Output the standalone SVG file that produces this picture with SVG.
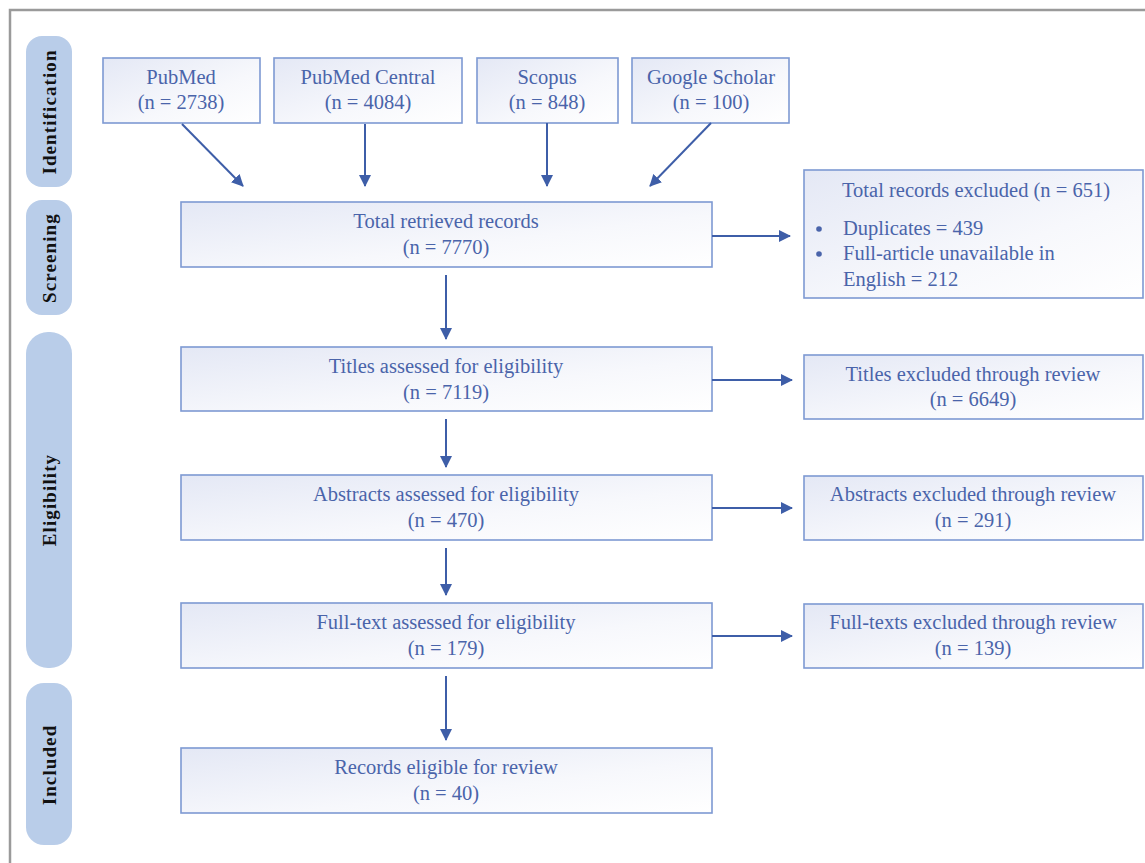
<svg xmlns="http://www.w3.org/2000/svg" width="1145" height="863" viewBox="0 0 1145 863">
<defs>
<linearGradient id="bg" x1="0" y1="0" x2="1" y2="1">
<stop offset="0" stop-color="#e4e8f5"/>
<stop offset="0.6" stop-color="#f7f8fc"/>
<stop offset="1" stop-color="#ffffff"/>
</linearGradient>
<marker id="ah" markerWidth="12" markerHeight="12" refX="11" refY="6" orient="auto" markerUnits="userSpaceOnUse">
<path d="M0,0 L12,6 L0,12 Z" fill="#3e5ea8"/>
</marker>
<style>
.box{fill:url(#bg);stroke:#7d99d3;stroke-width:1.6}
.pill{fill:#b9cde9}
.t{font-family:"Liberation Serif","Times New Roman",serif;font-size:20.5px;fill:#4a64aa}
.c{text-anchor:middle}
.lab{font-family:"Liberation Serif","Times New Roman",serif;font-size:19px;font-weight:bold;letter-spacing:1.1px;fill:#111;text-anchor:middle}
.ln{stroke:#3e5ea8;stroke-width:2;fill:none;marker-end:url(#ah)}
</style>
</defs>
<rect width="1145" height="863" fill="#fff"/>
<path d="M10,863 L10,10 L1145,10" fill="none" stroke="#9a9a9a" stroke-width="2.5"/>

<g id="stage-identification"><rect class="pill" x="26" y="36" width="46" height="151" rx="16"/><text class="lab" transform="translate(56,112) rotate(-90)">Identification</text></g>
<g id="stage-screening"><rect class="pill" x="26" y="200" width="46" height="115" rx="16"/><text class="lab" transform="translate(56,258) rotate(-90)">Screening</text></g>
<g id="stage-eligibility"><rect class="pill" x="26" y="332" width="46" height="336" rx="22"/><text class="lab" transform="translate(56,500) rotate(-90)">Eligibility</text></g>
<g id="stage-included"><rect class="pill" x="26" y="683" width="46" height="162" rx="18"/><text class="lab" transform="translate(56,765) rotate(-90)">Included</text></g>

<g id="pubmed"><rect class="box" x="103" y="58" width="157" height="65"/><text class="t c" x="181" y="84">PubMed</text><text class="t c" x="181" y="109">(n = 2738)</text></g>
<g id="pmc"><rect class="box" x="274" y="58" width="188" height="65"/><text class="t c" x="368" y="84">PubMed Central</text><text class="t c" x="368" y="109">(n = 4084)</text></g>
<g id="scopus"><rect class="box" x="477" y="58" width="141" height="65"/><text class="t c" x="547" y="84">Scopus</text><text class="t c" x="547" y="109">(n = 848)</text></g>
<g id="scholar"><rect class="box" x="632" y="58" width="157" height="65"/><text class="t c" x="711" y="84">Google Scholar</text><text class="t c" x="711" y="109">(n = 100)</text></g>

<g id="retrieved"><rect class="box" x="181" y="202" width="531" height="65"/><text class="t c" x="446" y="228">Total retrieved records</text><text class="t c" x="446" y="254">(n = 7770)</text></g>
<g id="titles"><rect class="box" x="181" y="347" width="531" height="64"/><text class="t c" x="446" y="373">Titles assessed for eligibility</text><text class="t c" x="446" y="399">(n = 7119)</text></g>
<g id="abstracts"><rect class="box" x="181" y="475" width="531" height="65"/><text class="t c" x="446" y="501">Abstracts assessed for eligibility</text><text class="t c" x="446" y="527">(n = 470)</text></g>
<g id="fulltext"><rect class="box" x="181" y="603" width="531" height="65"/><text class="t c" x="446" y="629">Full-text assessed for eligibility</text><text class="t c" x="446" y="655">(n = 179)</text></g>
<g id="eligible"><rect class="box" x="181" y="748" width="531" height="65"/><text class="t c" x="446" y="774">Records eligible for review</text><text class="t c" x="446" y="800">(n = 40)</text></g>

<g id="excluded-total"><rect class="box" x="804" y="170" width="339" height="128"/>
<text class="t" x="842" y="197">Total records excluded (n = 651)</text>
<circle cx="819" cy="229" r="2.8" fill="#4a64aa"/><text class="t" x="843" y="235">Duplicates = 439</text>
<circle cx="819" cy="254" r="2.8" fill="#4a64aa"/><text class="t" x="843" y="260">Full-article unavailable in</text>
<text class="t" x="843" y="286">English = 212</text></g>
<g id="excluded-titles"><rect class="box" x="804" y="355" width="339" height="64"/><text class="t c" x="973" y="381">Titles excluded through review</text><text class="t c" x="973" y="406">(n = 6649)</text></g>
<g id="excluded-abstracts"><rect class="box" x="804" y="476" width="339" height="64"/><text class="t c" x="973" y="501">Abstracts excluded through review</text><text class="t c" x="973" y="527">(n = 291)</text></g>
<g id="excluded-fulltexts"><rect class="box" x="804" y="604" width="339" height="64"/><text class="t c" x="973" y="629">Full-texts excluded through review</text><text class="t c" x="973" y="655">(n = 139)</text></g>

<g id="connectors">
<line class="ln" x1="182" y1="124" x2="243" y2="186"/>
<line class="ln" x1="365" y1="124" x2="365" y2="186"/>
<line class="ln" x1="547" y1="123" x2="547" y2="186"/>
<line class="ln" x1="711" y1="123" x2="650" y2="186"/>
<line class="ln" x1="446" y1="275" x2="446" y2="339"/>
<line class="ln" x1="446" y1="419" x2="446" y2="467"/>
<line class="ln" x1="446" y1="548" x2="446" y2="595"/>
<line class="ln" x1="446" y1="676" x2="446" y2="740"/>
<line class="ln" x1="712" y1="236" x2="790" y2="236"/>
<line class="ln" x1="712" y1="380" x2="792" y2="380"/>
<line class="ln" x1="712" y1="508" x2="792" y2="508"/>
<line class="ln" x1="712" y1="636" x2="792" y2="636"/>
</g>
</svg>
